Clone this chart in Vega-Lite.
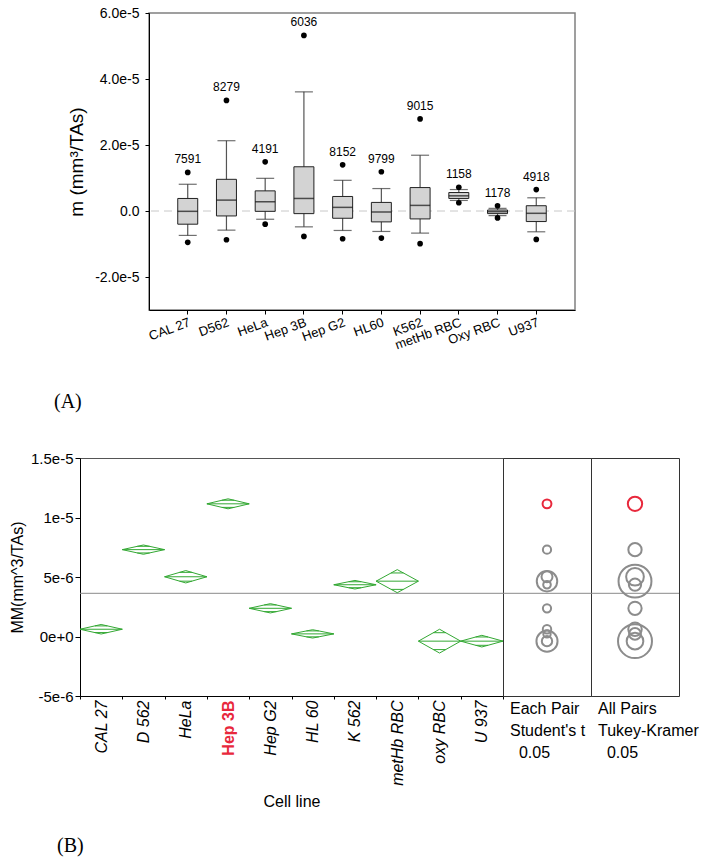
{
  "$schema": "https://vega.github.io/schema/vega-lite/v6.json",
  "padding": {"left": 8, "top": 5, "right": 5, "bottom": 5},
  "config": {
    "font": "Liberation Sans",
    "axis": {"labelFont": "Liberation Sans", "titleFont": "Liberation Sans", "labelColor": "#000", "titleColor": "#000", "domainColor": "#000", "tickColor": "#000", "grid": false, "titleFontWeight": "normal"},
    "axisY": {"titleFontSize": 19},
    "title": {"fontWeight": "normal", "color": "#000"}
  },
  "datasets": {
    "boxes": [
      {"cell": "CAL 27", "n": "7591", "omax": 1.17e-5, "whi": 8.1e-6, "q3": 3.8e-6, "med": -1e-7, "q1": -4.0e-6, "wlo": -7.4e-6, "omin": -9.5e-6},
      {"cell": "D562", "n": "8279", "omax": 3.35e-5, "whi": 2.13e-5, "q3": 9.6e-6, "med": 3.3e-6, "q1": -1.5e-6, "wlo": -5.8e-6, "omin": -8.7e-6},
      {"cell": "HeLa", "n": "4191", "omax": 1.49e-5, "whi": 9.9e-6, "q3": 6.1e-6, "med": 2.8e-6, "q1": -1e-7, "wlo": -2.5e-6, "omin": -4.0e-6},
      {"cell": "Hep 3B", "n": "6036", "omax": 5.32e-5, "whi": 3.61e-5, "q3": 1.34e-5, "med": 3.8e-6, "q1": -8e-7, "wlo": -4.8e-6, "omin": -7.7e-6},
      {"cell": "Hep G2", "n": "8152", "omax": 1.4e-5, "whi": 9.3e-6, "q3": 4.4e-6, "med": 1.1e-6, "q1": -2.2e-6, "wlo": -5.9e-6, "omin": -8.4e-6},
      {"cell": "HL60", "n": "9799", "omax": 1.19e-5, "whi": 6.8e-6, "q3": 2.6e-6, "med": -3e-7, "q1": -3.3e-6, "wlo": -6.2e-6, "omin": -8.2e-6},
      {"cell": "K562", "n": "9015", "omax": 2.79e-5, "whi": 1.69e-5, "q3": 7.1e-6, "med": 1.7e-6, "q1": -2.4e-6, "wlo": -6.7e-6, "omin": -9.9e-6},
      {"cell": "metHb RBC", "n": "1158", "omax": 7.2e-6, "whi": 6.5e-6, "q3": 5.6e-6, "med": 4.6e-6, "q1": 3.8e-6, "wlo": 3.2e-6, "omin": 2.5e-6},
      {"cell": "Oxy RBC", "n": "1178", "omax": 1.6e-6, "whi": 8e-7, "q3": 3e-7, "med": -2e-7, "q1": -8e-7, "wlo": -1.4e-6, "omin": -2.1e-6},
      {"cell": "U937", "n": "4918", "omax": 6.5e-6, "whi": 4.0e-6, "q3": 1.6e-6, "med": -7e-7, "q1": -3.2e-6, "wlo": -6.3e-6, "omin": -8.6e-6}
    ],
    "means": [
      {"cell": "CAL 27", "mean": 6.1e-7, "hi": 1.01e-6, "lo": 2.1e-7, "oh": 8.9e-7, "ol": 3.3e-7, "rt": 4.0e-7, "rtk": 6.4e-7},
      {"cell": "D 562", "mean": 7.30e-6, "hi": 7.69e-6, "lo": 6.91e-6, "oh": 7.58e-6, "ol": 7.02e-6, "rt": 3.9e-7, "rtk": 6.3e-7},
      {"cell": "HeLa", "mean": 5.02e-6, "hi": 5.54e-6, "lo": 4.50e-6, "oh": 5.39e-6, "ol": 4.65e-6, "rt": 5.2e-7, "rtk": 8.4e-7},
      {"cell": "Hep 3B", "mean": 1.115e-5, "hi": 1.157e-5, "lo": 1.073e-5, "oh": 1.145e-5, "ol": 1.085e-5, "rt": 4.2e-7, "rtk": 6.8e-7},
      {"cell": "Hep G2", "mean": 2.37e-6, "hi": 2.76e-6, "lo": 1.98e-6, "oh": 2.65e-6, "ol": 2.09e-6, "rt": 3.9e-7, "rtk": 6.3e-7},
      {"cell": "HL 60", "mean": 2.2e-7, "hi": 5.7e-7, "lo": -1.3e-7, "oh": 4.7e-7, "ol": -3e-8, "rt": 3.5e-7, "rtk": 5.6e-7},
      {"cell": "K 562", "mean": 4.35e-6, "hi": 4.71e-6, "lo": 3.99e-6, "oh": 4.60e-6, "ol": 4.10e-6, "rt": 3.6e-7, "rtk": 5.8e-7},
      {"cell": "metHb RBC", "mean": 4.65e-6, "hi": 5.62e-6, "lo": 3.68e-6, "oh": 5.34e-6, "ol": 3.96e-6, "rt": 9.7e-7, "rtk": 1.56e-6},
      {"cell": "oxy RBC", "mean": -3.9e-7, "hi": 6.1e-7, "lo": -1.39e-6, "oh": 3.2e-7, "ol": -1.10e-6, "rt": 1.0e-6, "rtk": 1.61e-6},
      {"cell": "U 937", "mean": -3.9e-7, "hi": 1.0e-7, "lo": -8.8e-7, "oh": -4e-8, "ol": -7.4e-7, "rt": 4.9e-7, "rtk": 7.9e-7}
    ]
  },
  "spacing": 37,
  "resolve": {"scale": {"x": "independent", "y": "independent", "size": "independent"}},
  "vconcat": [
    {
      "hconcat": [
        {"width": 69, "height": 10, "data": {"values": []}, "mark": "point", "view": {"stroke": null}},
        {
          "width": 426, "height": 297,
          "view": {"stroke": "#808080", "strokeWidth": 1.5},
          "data": {"name": "boxes"},
          "title": {"text": "(A)", "orient": "bottom", "anchor": "start", "frame": "group", "dx": -95, "offset": 40, "font": "Liberation Serif", "fontSize": 20, "fontWeight": "normal", "color": "#000"},
          "layer": [
            {
              "data": {"values": [{"z": 0}]},
              "mark": {"type": "rule", "color": "#c8c8c8", "strokeDash": [8, 5], "strokeWidth": 1},
              "encoding": {"y": {"field": "z", "type": "quantitative", "title": "m (mm³/TAs)", "scale": {"domain": [-3e-5, 6e-5], "nice": false, "zero": false},
                      "axis": {"values": [-2e-5, 0, 2e-5, 4e-5, 6e-5], "labelExpr": "datum.value == 0 ? '0.0' : replace(format(datum.value, '.1e'), '\u2212', '-')", "labelFontSize": 14, "tickSize": 4, "labelPadding": 6, "titleFontSize": 19, "titlePadding": 8}}}
            },
            {
              "mark": {"type": "rule", "color": "#555", "strokeWidth": 1.2},
              "encoding": {
                "x": {"field": "cell", "type": "nominal", "sort": null, "scale": {"paddingInner": 0.484, "paddingOuter": 0.742},
                      "axis": {"title": null, "labelAngle": -20, "labelAlign": "right", "labelBaseline": "top", "labelFontSize": 13, "tickSize": 4, "labelPadding": 2}},
                "y": {"field": "wlo", "type": "quantitative", "title": "m (mm³/TAs)", "scale": {"domain": [-3e-5, 6e-5], "nice": false, "zero": false},
                      "axis": {"values": [-2e-5, 0, 2e-5, 4e-5, 6e-5], "labelExpr": "datum.value == 0 ? '0.0' : replace(format(datum.value, '.1e'), '\u2212', '-')", "labelFontSize": 14, "tickSize": 4, "labelPadding": 6, "titleFontSize": 19, "titlePadding": 8}},
                "y2": {"field": "whi"}
              }
            },
            {
              "mark": {"type": "bar", "fill": "#d3d3d3", "stroke": "#222", "strokeWidth": 1},
              "encoding": {
                "x": {"field": "cell", "type": "nominal", "sort": null},
                "y": {"field": "q1", "type": "quantitative", "title": "m (mm³/TAs)"},
                "y2": {"field": "q3"}
              }
            },
            {
              "mark": {"type": "tick", "orient": "horizontal", "color": "#111", "size": 20, "thickness": 1.5},
              "encoding": {"x": {"field": "cell", "type": "nominal", "sort": null}, "y": {"field": "med", "type": "quantitative", "title": "m (mm³/TAs)"}}
            },
            {
              "mark": {"type": "tick", "orient": "horizontal", "color": "#333", "size": 18, "thickness": 1.2},
              "encoding": {"x": {"field": "cell", "type": "nominal", "sort": null}, "y": {"field": "whi", "type": "quantitative", "title": "m (mm³/TAs)"}}
            },
            {
              "mark": {"type": "tick", "orient": "horizontal", "color": "#333", "size": 18, "thickness": 1.2},
              "encoding": {"x": {"field": "cell", "type": "nominal", "sort": null}, "y": {"field": "wlo", "type": "quantitative", "title": "m (mm³/TAs)"}}
            },
            {
              "mark": {"type": "point", "filled": true, "color": "#000", "opacity": 1, "size": 32},
              "encoding": {"x": {"field": "cell", "type": "nominal", "sort": null}, "y": {"field": "omax", "type": "quantitative", "title": "m (mm³/TAs)"}}
            },
            {
              "mark": {"type": "point", "filled": true, "color": "#000", "opacity": 1, "size": 32},
              "encoding": {"x": {"field": "cell", "type": "nominal", "sort": null}, "y": {"field": "omin", "type": "quantitative", "title": "m (mm³/TAs)"}}
            },
            {
              "mark": {"type": "text", "fontSize": 12, "dy": -9, "baseline": "alphabetic", "color": "#000"},
              "encoding": {"x": {"field": "cell", "type": "nominal", "sort": null}, "y": {"field": "omax", "type": "quantitative", "title": "m (mm³/TAs)"}, "text": {"field": "n", "type": "nominal"}}
            }
          ]
        }
      ],
      "spacing": 0,
      "bounds": "flush",
      "resolve": {"scale": {"x": "independent", "y": "independent"}}
    },
    {
      "hconcat": [
        {
          "width": 423, "height": 238,
          "view": {"stroke": "#555", "strokeWidth": 1},
          "data": {"name": "means"},
          "title": {"text": "(B)", "orient": "bottom", "anchor": "start", "frame": "group", "dx": -23, "offset": 27, "font": "Liberation Serif", "fontSize": 20, "fontWeight": "normal", "color": "#000"},
          "layer": [
            {
              "data": {"values": [{"g": 3.63e-6}]},
              "mark": {"type": "rule", "color": "#8a8a8a", "strokeWidth": 1},
              "encoding": {"y": {"field": "g", "type": "quantitative", "title": "MM(mm^3/TAs)", "scale": {"domain": [-5e-6, 1.5e-5], "nice": false, "zero": false},
                      "axis": {"values": [-5e-6, -3.75e-6, -2.5e-6, -1.25e-6, 0, 1.25e-6, 2.5e-6, 3.75e-6, 5e-6, 6.25e-6, 7.5e-6, 8.75e-6, 1e-5, 1.125e-5, 1.25e-5, 1.375e-5, 1.5e-5],
                               "labelExpr": "abs(datum.value/5e-6 - round(datum.value/5e-6)) < 0.01 ? replace(format(datum.value, '~e'), '\u2212', '-') : ''",
                               "tickSize": {"condition": {"test": "abs(datum.value/5e-6 - round(datum.value/5e-6)) < 0.01", "value": 5}, "value": 3},
                               "labelFontSize": 15, "labelPadding": 2, "titleFontSize": 16, "titlePadding": 5, "labelOverlap": false}}}
            },
            {
              "mark": {"type": "rule", "color": "#33a833", "strokeWidth": 1},
              "encoding": {
                "x": {"field": "cell", "type": "nominal", "sort": null, "bandPosition": 0, "scale": {"paddingInner": 0, "paddingOuter": 0},
                      "axis": {"title": "Cell line", "titleFontSize": 16, "titlePadding": 8, "labelAngle": -90, "labelAlign": "right", "labelBaseline": "middle", "labelFontSize": 16, "labelPadding": 1, "tickSize": 3, "tickBand": "extent",
                               "labelFontStyle": {"condition": {"test": "datum.value == 'Hep 3B'", "value": "normal"}, "value": "italic"},
                               "labelFontWeight": {"condition": {"test": "datum.value == 'Hep 3B'", "value": "bold"}, "value": "normal"},
                               "labelColor": {"condition": {"test": "datum.value == 'Hep 3B'", "value": "#e8283c"}, "value": "#000"}}},
                "x2": {"field": "cell", "bandPosition": 1},
                "y": {"field": "mean", "type": "quantitative", "title": "MM(mm^3/TAs)", "scale": {"domain": [-5e-6, 1.5e-5], "nice": false, "zero": false},
                      "axis": {"values": [-5e-6, -3.75e-6, -2.5e-6, -1.25e-6, 0, 1.25e-6, 2.5e-6, 3.75e-6, 5e-6, 6.25e-6, 7.5e-6, 8.75e-6, 1e-5, 1.125e-5, 1.25e-5, 1.375e-5, 1.5e-5],
                               "labelExpr": "abs(datum.value/5e-6 - round(datum.value/5e-6)) < 0.01 ? replace(format(datum.value, '~e'), '\u2212', '-') : ''",
                               "tickSize": {"condition": {"test": "abs(datum.value/5e-6 - round(datum.value/5e-6)) < 0.01", "value": 5}, "value": 3},
                               "labelFontSize": 15, "labelPadding": 2, "titleFontSize": 16, "titlePadding": 5, "labelOverlap": false}}
              }
            },
            {
              "mark": {"type": "rule", "color": "#33a833", "strokeWidth": 1},
              "encoding": {
                "x": {"field": "cell", "type": "nominal", "sort": null, "bandPosition": 0},
                "x2": {"field": "cell", "bandPosition": 0.5},
                "y": {"field": "mean", "type": "quantitative", "title": "MM(mm^3/TAs)"},
                "y2": {"field": "hi"}
              }
            },
            {
              "mark": {"type": "rule", "color": "#33a833", "strokeWidth": 1},
              "encoding": {
                "x": {"field": "cell", "type": "nominal", "sort": null, "bandPosition": 0.5},
                "x2": {"field": "cell", "bandPosition": 1},
                "y": {"field": "hi", "type": "quantitative", "title": "MM(mm^3/TAs)"},
                "y2": {"field": "mean"}
              }
            },
            {
              "mark": {"type": "rule", "color": "#33a833", "strokeWidth": 1},
              "encoding": {
                "x": {"field": "cell", "type": "nominal", "sort": null, "bandPosition": 0},
                "x2": {"field": "cell", "bandPosition": 0.5},
                "y": {"field": "mean", "type": "quantitative", "title": "MM(mm^3/TAs)"},
                "y2": {"field": "lo"}
              }
            },
            {
              "mark": {"type": "rule", "color": "#33a833", "strokeWidth": 1},
              "encoding": {
                "x": {"field": "cell", "type": "nominal", "sort": null, "bandPosition": 0.5},
                "x2": {"field": "cell", "bandPosition": 1},
                "y": {"field": "lo", "type": "quantitative", "title": "MM(mm^3/TAs)"},
                "y2": {"field": "mean"}
              }
            },
            {
              "mark": {"type": "rule", "color": "#33a833", "strokeWidth": 1},
              "encoding": {
                "x": {"field": "cell", "type": "nominal", "sort": null, "bandPosition": 0.354},
                "x2": {"field": "cell", "bandPosition": 0.646},
                "y": {"field": "oh", "type": "quantitative", "title": "MM(mm^3/TAs)"}
              }
            },
            {
              "mark": {"type": "rule", "color": "#33a833", "strokeWidth": 1},
              "encoding": {
                "x": {"field": "cell", "type": "nominal", "sort": null, "bandPosition": 0.354},
                "x2": {"field": "cell", "bandPosition": 0.646},
                "y": {"field": "ol", "type": "quantitative", "title": "MM(mm^3/TAs)"}
              }
            }
          ]
        },
        {
          "width": 88, "height": 238,
          "view": {"stroke": "#333", "strokeWidth": 1},
          "data": {"name": "means"},
          "title": {"text": ["Each Pair", "Student's t", "\u200b\u00a0\u00a00.05"], "orient": "bottom", "anchor": "start", "frame": "group", "dx": 7, "offset": 5, "font": "Liberation Sans", "fontSize": 16, "lineHeight": 22, "fontWeight": "normal", "color": "#000"},
          "layer": [
            {
              "data": {"values": [{"g": 3.63e-6}]},
              "mark": {"type": "rule", "color": "#8a8a8a", "strokeWidth": 1},
              "encoding": {"y": {"field": "g", "type": "quantitative", "scale": {"domain": [-5e-6, 1.5e-5], "nice": false, "zero": false}, "axis": null}}
            },
            {
              "mark": {"type": "point", "filled": false, "strokeWidth": 2, "opacity": 1},
              "encoding": {
                "y": {"field": "mean", "type": "quantitative", "scale": {"domain": [-5e-6, 1.5e-5], "nice": false, "zero": false}, "axis": null},
                "size": {"field": "rt", "type": "quantitative", "scale": {"type": "pow", "exponent": 2, "domain": [0, 1e-6], "range": [0, 445]}, "legend": null},
                "stroke": {"condition": {"test": "datum.cell == 'Hep 3B'", "value": "#e8283c"}, "value": "#8c8c8c"}
              }
            }
          ]
        },
        {
          "width": 88, "height": 238,
          "view": {"stroke": "#333", "strokeWidth": 1},
          "data": {"name": "means"},
          "title": {"text": ["All Pairs", "Tukey-Kramer", "\u200b\u00a0\u00a00.05"], "orient": "bottom", "anchor": "start", "frame": "group", "dx": 7, "offset": 5, "font": "Liberation Sans", "fontSize": 16, "lineHeight": 22, "fontWeight": "normal", "color": "#000"},
          "layer": [
            {
              "data": {"values": [{"g": 3.63e-6}]},
              "mark": {"type": "rule", "color": "#8a8a8a", "strokeWidth": 1},
              "encoding": {"y": {"field": "g", "type": "quantitative", "scale": {"domain": [-5e-6, 1.5e-5], "nice": false, "zero": false}, "axis": null}}
            },
            {
              "mark": {"type": "point", "filled": false, "strokeWidth": 2, "opacity": 1},
              "encoding": {
                "y": {"field": "mean", "type": "quantitative", "scale": {"domain": [-5e-6, 1.5e-5], "nice": false, "zero": false}, "axis": null},
                "size": {"field": "rtk", "type": "quantitative", "scale": {"type": "pow", "exponent": 2, "domain": [0, 1e-6], "range": [0, 445]}, "legend": null},
                "stroke": {"condition": {"test": "datum.cell == 'Hep 3B'", "value": "#e8283c"}, "value": "#8c8c8c"}
              }
            }
          ]
        }
      ],
      "spacing": 0,
      "bounds": "flush",
      "resolve": {"scale": {"x": "independent", "y": "independent", "size": "independent"}}
    }
  ]
}
